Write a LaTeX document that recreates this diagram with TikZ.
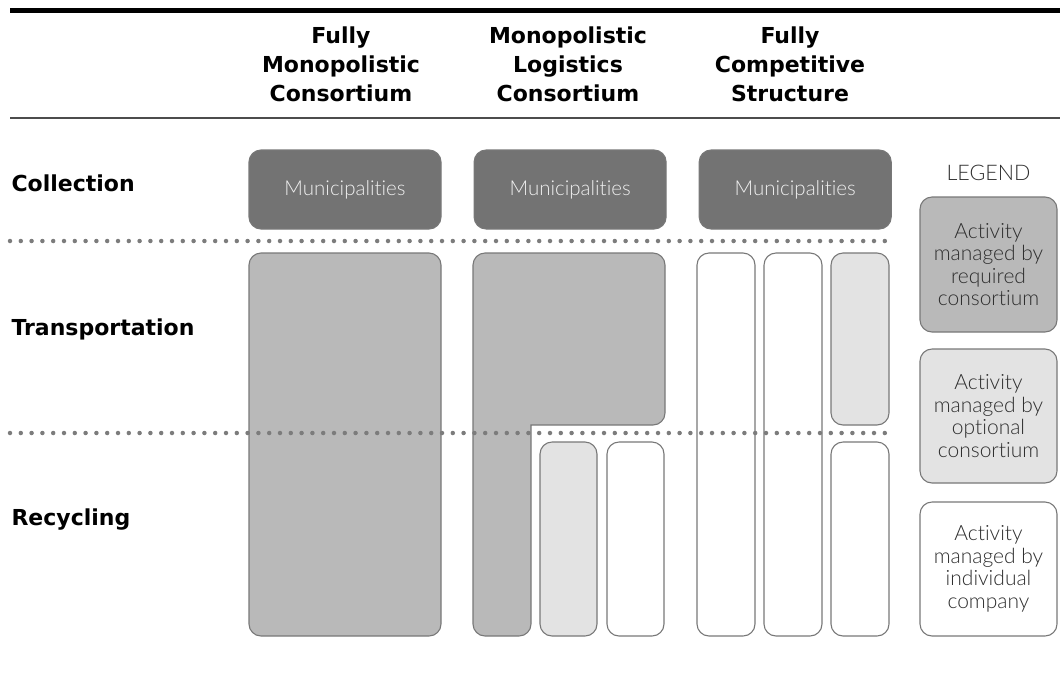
\documentclass[tikz,border=0pt]{standalone}
\usepackage{fontspec}
\setmainfont{DejaVu Sans}
\newfontfamily\lightfont{Lato Light}[Ligatures=NoCommon]
\usetikzlibrary{positioning}

\definecolor{darkgrey}{HTML}{737373}
\definecolor{midgrey}{HTML}{B9B9B9}
\definecolor{lightgrey}{HTML}{E3E3E3}
\definecolor{edgegrey}{HTML}{787878}
\definecolor{dotgrey}{HTML}{7C7C7C}
\definecolor{textgrey}{HTML}{2E2E2E}

\tikzset{
  box/.style={draw=edgegrey, line width=1.1pt, rounded corners=12pt, inner sep=0pt, align=center},
  munbox/.style={box, fill=darkgrey, text=white!94!black, minimum width=192pt, minimum height=79pt,
    font=\lightfont\fontsize{20.5}{24}\selectfont},
  midbox/.style={box, fill=midgrey},
  lightbox/.style={box, fill=lightgrey},
  whitebox/.style={box, fill=white},
  legendbox/.style={box, minimum width=137pt, minimum height=134pt, text=textgrey,
    font=\lightfont\fontsize{21}{22.5}\selectfont},
  header/.style={font=\bfseries\fontsize{22}{29}\selectfont, align=center},
  rowlabel/.style={font=\bfseries\fontsize{22}{25}\selectfont, anchor=west},
  dotline/.style={draw=dotgrey, line width=4.5pt, line cap=round, dash pattern=on 0pt off 10.8pt}
}

\begin{document}
\begin{tikzpicture}[x=1pt,y=-1pt]
  \useasboundingbox (0,0) rectangle (1060,673);

  % header rules
  \draw[line width=5pt] (10,10) -- (1060,10);
  \draw[line width=1.5pt, draw=black!70] (10,118) -- (1060,118);

  % column headers
  \node[header] (hfull) at (341,64) {Fully\\Monopolistic\\Consortium};
  \node[header] (hlog) at (568,64) {Monopolistic\\Logistics\\Consortium};
  \node[header] (hcomp) at (790,64) {Fully\\Competitive\\Structure};

  % row labels
  \node[rowlabel] (rcoll) at (8,183) {Collection};
  \node[rowlabel] (rtrans) at (8,329) {Transportation};
  \node[rowlabel] (rrec) at (8,520) {Recycling};

  % collection
  \node[munbox] (mun1) at (345,189.5) {Municipalities};
  \node[munbox, right=32pt of mun1] (mun2) {Municipalities};
  \node[munbox, right=32pt of mun2] (mun3) {Municipalities};

  % fully monopolistic
  \node[midbox, minimum width=192pt, minimum height=383pt] (fullbox) at (345,444.5) {};

  % logistics consortium
  \filldraw[fill=midgrey, draw=edgegrey, line width=1.1pt]
    (473,624) -- (473,265) arc[start angle=180, end angle=270, radius=12]
    -- (653,253) arc[start angle=270, end angle=360, radius=12]
    -- (665,413) arc[start angle=0, end angle=90, radius=12]
    -- (531,425) -- (531,624) arc[start angle=0, end angle=90, radius=12]
    -- (485,636) arc[start angle=90, end angle=180, radius=12] -- cycle;
  \node[lightbox, minimum width=57pt, minimum height=194pt] (logopt) at (568.5,539) {};
  \node[whitebox, minimum width=57pt, minimum height=194pt] (logind) at (635.5,539) {};

  % fully competitive
  \node[whitebox, minimum width=58pt, minimum height=383pt] (compa) at (726,444.5) {};
  \node[whitebox, minimum width=58pt, minimum height=383pt] (compb) at (793,444.5) {};
  \node[lightbox, minimum width=58pt, minimum height=172pt] (compc) at (860,339) {};
  \node[whitebox, minimum width=58pt, minimum height=194pt] (compd) at (860,539) {};

  % legend
  \node[text=textgrey, font=\lightfont\fontsize{21.5}{24}\selectfont] (legend) at (988.5,173) {LEGEND};
  \node[legendbox, fill=midgrey, minimum height=135pt] (lreq) at (988.5,264.5)
    {Activity\\managed by\\required\\consortium};
  \node[legendbox, fill=lightgrey] (lopt) at (988.5,416)
    {Activity\\managed by\\optional\\consortium};
  \node[legendbox, fill=white] (lind) at (988.5,569)
    {Activity\\managed by\\individual\\company};

  % dotted separators
  \coordinate (sepa) at (10,241);
  \coordinate (sepb) at (888,241);
  \coordinate (sepc) at (10,433);
  \coordinate (sepd) at (888,433);
  \draw[dotline] (sepa) -- (sepb);
  \draw[dotline] (sepc) -- (sepd);
\end{tikzpicture}
\end{document}
